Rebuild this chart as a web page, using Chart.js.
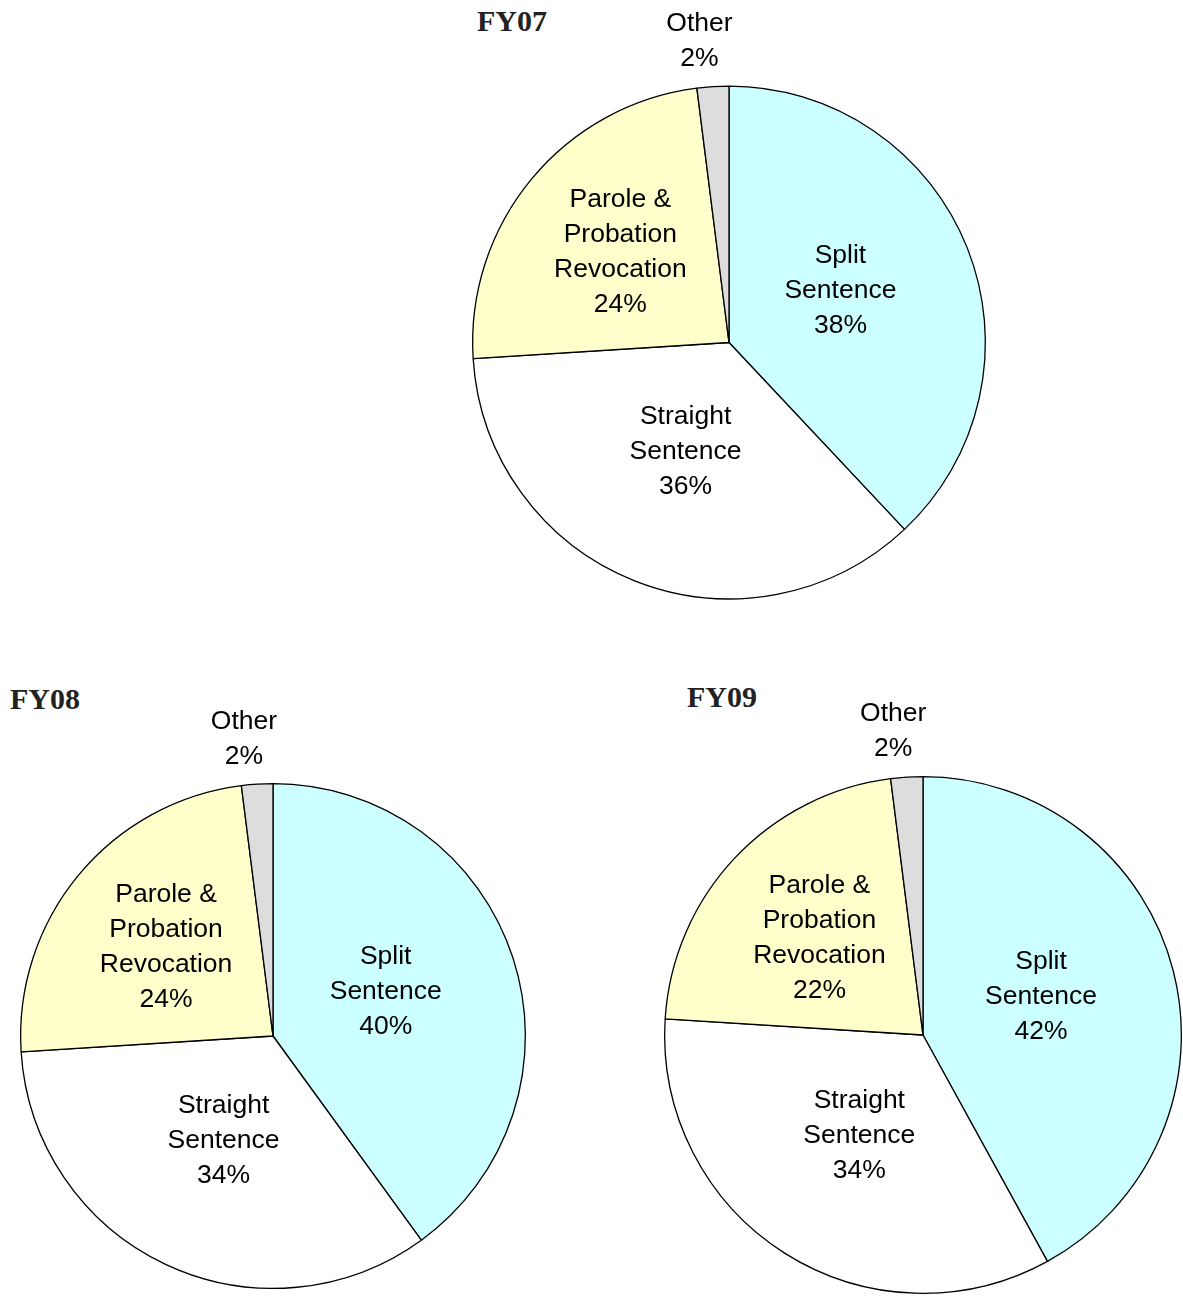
<!DOCTYPE html>
<html lang="en">
<head>
  <meta charset="UTF-8">
  <title>Admissions by type</title>
  <script src="https://cdn.jsdelivr.net/npm/chart.js"></script>
  <style>
    body { margin: 0; background: #fff; width: 1183px; height: 1298px; position: relative; overflow: hidden; }
    .box { position: absolute; }
    .title { position: absolute; font-family: "Liberation Serif", "Times New Roman", serif; font-weight: bold; font-size: 30px; color: #222; }
  </style>
</head>
<body>
  <div class="title" style="left:477px; top:4px;">FY07</div>
  <div class="title" style="left:10px; top:682px;">FY08</div>
  <div class="title" style="left:687px; top:680px;">FY09</div>

  <div class="box" style="left:429px; top:0px;"><canvas id="fy07" width="600" height="640"></canvas></div>
  <div class="box" style="left:0px; top:680px;"><canvas id="fy08" width="560" height="618"></canvas></div>
  <div class="box" style="left:640px; top:680px;"><canvas id="fy09" width="543" height="618"></canvas></div>

  <script>
    const categories = ["Split Sentence", "Straight Sentence", "Parole & Probation Revocation", "Other"];
    // label lines shown on each slice (percent appended below)
    const labelLines = [["Split", "Sentence"], ["Straight", "Sentence"], ["Parole &", "Probation", "Revocation"], ["Other"]];
    const fy07 = [38, 36, 24, 2];
    const fy08 = [40, 34, 24, 2];
    const fy09 = [42, 34, 22, 2];

    const colors = ["#CCFFFF", "#FFFFFF", "#FFFFCC", "#DDDDDD"];
    // label distance from centre (share of radius) and small angle nudge in degrees
    const labelDist = [0.48, 0.46, 0.55, 1.18];
    const labelTurn = [-3.5, 0, 0, -2];

    const sliceLabels = {
      id: "sliceLabels",
      afterDatasetsDraw(chart) {
        const ctx = chart.ctx;
        const meta = chart.getDatasetMeta(0);
        const values = chart.data.datasets[0].data;
        ctx.save();
        ctx.font = "26.5px 'Liberation Sans', Arial, sans-serif";
        ctx.fillStyle = "#000";
        ctx.textAlign = "center";
        ctx.textBaseline = "middle";
        meta.data.forEach((arc, i) => {
          const mid = (arc.startAngle + arc.endAngle) / 2 + labelTurn[i] * Math.PI / 180;
          const r = arc.outerRadius * labelDist[i];
          const x = arc.x + Math.cos(mid) * r;
          const y = arc.y + Math.sin(mid) * r;
          const lines = labelLines[i].concat([values[i] + "%"]);
          const lh = 35;
          const top = y - (lines.length - 1) * lh / 2;
          lines.forEach((t, k) => ctx.fillText(t, x, top + k * lh));
        });
        ctx.restore();
      }
    };

    function makePie(id, values, padding) {
      new Chart(document.getElementById(id), {
        type: "pie",
        data: {
          labels: categories,
          datasets: [{
            data: values,
            backgroundColor: colors,
            borderColor: "#000",
            borderWidth: 1.3
          }]
        },
        options: {
          responsive: false,
          animation: false,
          layout: { padding: padding },
          plugins: {
            legend: { display: false },
            tooltip: { enabled: false }
          }
        },
        plugins: [sliceLabels]
      });
    }

    makePie("fy07", fy07, { left: 43, right: 43, top: 85, bottom: 40 });
    makePie("fy08", fy08, { left: 20, right: 34, top: 102, bottom: 8 });
    makePie("fy09", fy09, { left: 24, right: 1, top: 96, bottom: 4 });
  </script>
</body>
</html>
